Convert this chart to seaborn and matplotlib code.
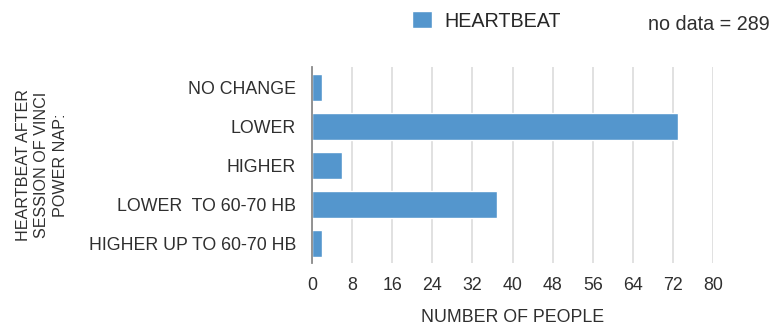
import matplotlib
matplotlib.use("Agg")
import matplotlib.pyplot as plt
import seaborn as sns
import pandas as pd
from matplotlib.patches import Patch

categories = ["NO CHANGE", "LOWER", "HIGHER", "LOWER  TO 60-70 HB", "HIGHER UP TO 60-70 HB"]
values = [2, 73, 6, 37, 2]
xticks = [0, 8, 16, 24, 32, 40, 48, 56, 64, 72, 80]
series_name = "HEARTBEAT"
note = "no data = 289"

sns.set_theme(style="white")
plt.rcParams['font.family'] = ['Liberation Sans', 'DejaVu Sans']

FS = 12.8
FS_TOP = 14.2
TXT = "#2f2f2f"
color = "#5496cd"
df = pd.DataFrame({"cat": categories, "val": values})

fig = plt.figure(figsize=(7.84, 3.25), dpi=100)
ax = fig.add_axes([312 / 784, 1 - 263 / 325, (713 - 312) / 784, 196 / 325])
sns.barplot(data=df, x="val", y="cat", orient="h", color=color, width=0.69,
            saturation=1, ax=ax)

ax.set_xlim(0, 80)
ax.set_ylim(4.5, -0.53)
ax.set_xticks(xticks)
ax.set_xticklabels([str(t) for t in xticks], fontsize=FS, color=TXT)
ax.tick_params(axis="y", labelsize=FS, labelcolor=TXT, length=0, pad=11.5)
ax.tick_params(axis="x", length=0, pad=10.3)
ax.grid(axis="x", color="#dcdcdc", linewidth=1.2)
ax.set_axisbelow(True)
for s in ["top", "right", "bottom"]:
    ax.spines[s].set_visible(False)
ax.spines["left"].set_color("#8a8a8a")
ax.spines["left"].set_linewidth(1.3)

ax.set_xlabel("NUMBER OF PEOPLE", fontsize=FS, color=TXT, labelpad=10.8)
ax.set_ylabel("")
fig.text(42 / 784, 1 - 165 / 325, "HEARTBEAT AFTER\nSESSION OF VINCI\nPOWER NAP:",
         rotation=90, ha="center", va="center", fontsize=11.6, color=TXT,
         linespacing=1.3, multialignment="center")

fig.legend(handles=[Patch(facecolor=color, label=series_name)],
           loc="center left", bbox_to_anchor=(412 / 784, 1 - 21 / 325), frameon=False,
           borderpad=0, borderaxespad=0,
           fontsize=FS_TOP, handlelength=1.0, handleheight=0.95, handletextpad=0.66)
fig.text(648 / 784, 1 - 24 / 325, note, ha="left", va="center", fontsize=FS_TOP, color=TXT)

fig.savefig("out.png", dpi=100, facecolor="white")
